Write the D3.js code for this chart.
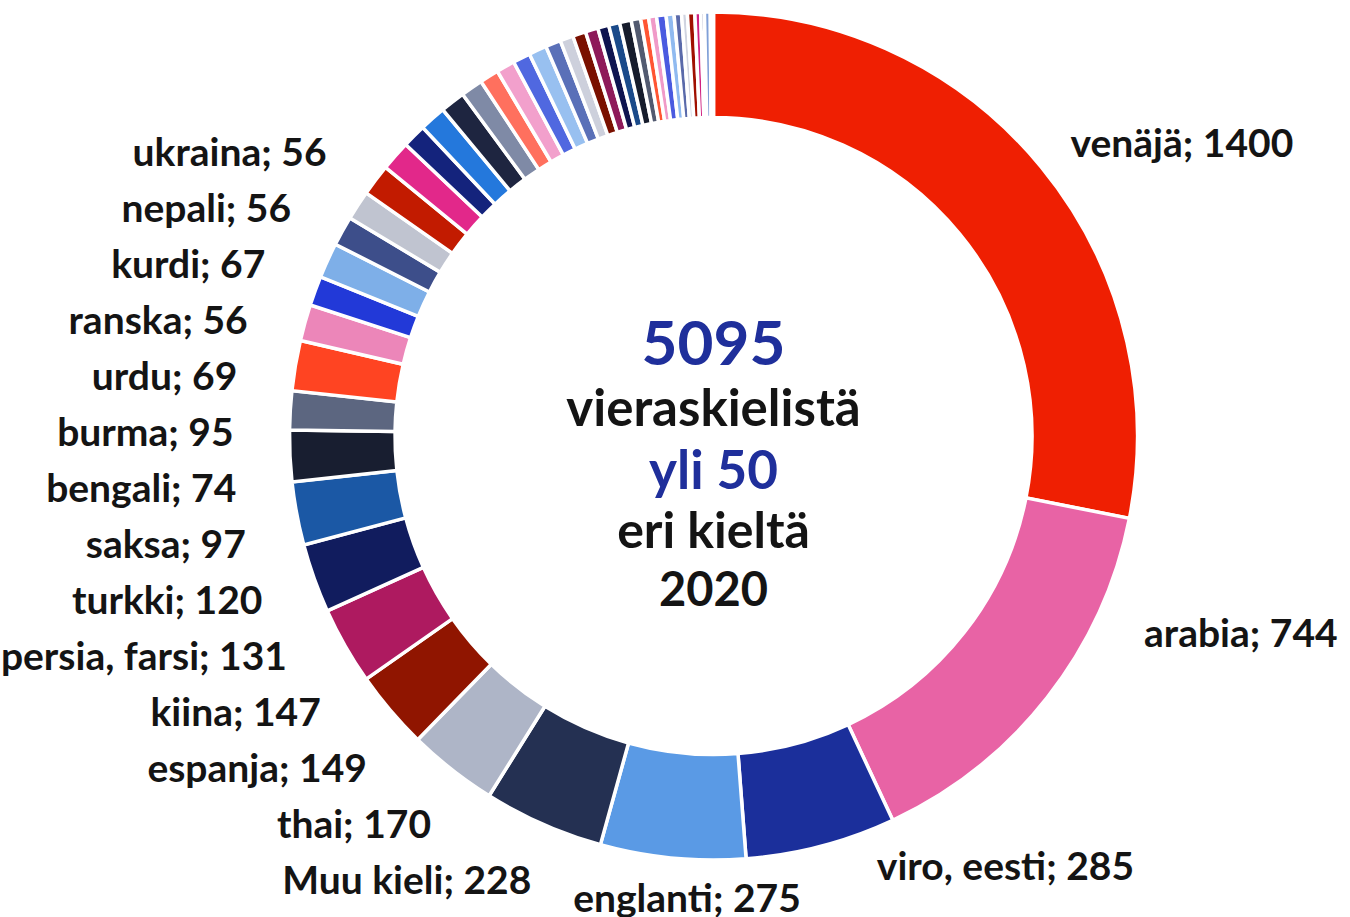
<!DOCTYPE html>
<html>
<head>
<meta charset="utf-8">
<script src="https://cdn.jsdelivr.net/npm/d3@7"></script>
<style>
  body { margin: 0; background: #fff; }
  svg { display: block; }
  text { font-family: Lato, "Open Sans", sans-serif; font-weight: 700; }
</style>
</head>
<body>
<svg width="1350" height="917"></svg>
<script>
/*
 * Data: languages with a label, clockwise from 12 o'clock
 */
var languages = ["venäjä", "arabia", "viro, eesti", "englanti", "Muu kieli", "thai",
  "espanja", "kiina", "persia, farsi", "turkki", "saksa", "bengali", "burma", "urdu",
  "ranska", "kurdi", "nepali", "ukraina"];
var speakers = [1400, 744, 285, 275, 228, 170, 149, 147, 131, 120, 97, 74, 95, 69, 56, 67, 56, 56];
var languageColors = ["#ef1f02", "#e863a5", "#1b2f9b", "#5a9ae5", "#243052", "#aeb5c7",
  "#901500", "#ae1a60", "#111c5e", "#1b58a5", "#181e30", "#5c6680", "#ff4422", "#ec86b9",
  "#2239d8", "#7eafe8", "#3d4e8a", "#c0c4d0"];

// the small languages without a label (rest of the ring, up to 12 o'clock)
var smallSpeakers = [60, 57, 45, 50, 47, 42, 36, 35, 33, 34, 29, 25, 25, 24, 21, 21, 22,
  18, 15, 15, 18, 15, 14, 11, 14, 11, 7, 11, 3, 2, 1];
var smallColors = ["#c21b00", "#e2288a", "#14237c", "#2478dc", "#1e2540", "#7f8aa6",
  "#ff705e", "#f2a0cc", "#5068e0", "#98c0f0", "#5a70b8", "#cdd0dc", "#7a1000", "#8e1a5a",
  "#0e1450", "#1a4a8a", "#161c2c", "#525a70", "#ff5533", "#f09ac8", "#4a5ae0", "#90baf0",
  "#5a6aaa", "#d0d4e0", "#a01000", "#d02080", "#404a80", "#80a0d8", "#c02040", "#3050c0",
  "#e06090"];

var centerLines = ["5095", "vieraskielistä", "yli 50", "eri kieltä", "2020"];
var centerColors = ["#1f2f9b", "#141414", "#1f2f9b", "#141414", "#141414"];

/*
 * svg set up
 */
var svg = d3.select("svg"),
    cx = 713.5,
    cy = 436,
    outerR = 424,
    innerR = 318.5;

var slices = speakers.map(function(v, i) {
  return { name: languages[i], value: v, color: languageColors[i], label: true };
}).concat(smallSpeakers.map(function(v, i) {
  return { name: "", value: v, color: smallColors[i], label: false };
}));

var pie = d3.pie().sort(null).value(function(d) { return d.value; });
var arc = d3.arc().innerRadius(innerR).outerRadius(outerR);

var g = svg.append("g").attr("transform", "translate(" + cx + "," + cy + ")");

var arcs = pie(slices);

// ### Ring
g.append("g")
  .selectAll("path")
  .data(arcs)
  .enter().append("path")
    .attr("d", arc)
    .attr("fill", function(d) { return d.data.color; })
    .attr("stroke", "#fff")
    .attr("stroke-width", 3.5);

// ### Labels
var labelFont = 39,
    step = 56,        // vertical spacing of the stacked labels on the left
    leftR = 480,      // circle the left labels end on
    rightR = 462;

// labels on the right were dragged by hand in the original
var labelNudge = { "arabia": [67, -88], "viro, eesti": [46, -17], "englanti": [18, 2] };

function mid(d) { return (d.startAngle + d.endAngle) / 2; }

var labelled = arcs.filter(function(d) { return d.data.label; });
var left = labelled.filter(function(d) { return mid(d) > Math.PI * 1.1; });
var right = labelled.filter(function(d) { return mid(d) <= Math.PI * 1.1; });

// left side: stack labels upward from the lowest one
var yBottom = -485 * Math.cos(mid(left[0]));
left.forEach(function(d, i) {
  var y = yBottom - i * step;
  d.ly = y;
  d.lx = -Math.sqrt(Math.max(leftR * leftR - y * y, 0));
  d.anchor = "end";
});
right.forEach(function(d) {
  var a = mid(d),
      n = labelNudge[d.data.name] || [0, 0];
  d.lx = rightR * Math.sin(a) + n[0];
  d.ly = -rightR * Math.cos(a) + n[1];
  d.anchor = a > Math.PI * 0.95 ? "middle" : "start";
});

g.append("g")
  .selectAll("text")
  .data(labelled)
  .enter().append("text")
    .attr("x", function(d) { return d.lx; })
    .attr("y", function(d) { return d.ly; })
    .attr("dy", "0.36em")
    .attr("text-anchor", function(d) { return d.anchor; })
    .attr("font-size", labelFont)
    .attr("fill", "#141414")
    .text(function(d) { return d.data.name + "; " + d.data.value; });

// ### Centre text
var centerSizes = [62, 51, 53, 50, 47];
var centerY = [-71, -10, 53, 112, 170];
g.append("g")
  .selectAll("text")
  .data(centerLines)
  .enter().append("text")
    .attr("x", 0)
    .attr("y", function(d, i) { return centerY[i]; })
    .attr("text-anchor", "middle")
    .attr("font-size", function(d, i) { return centerSizes[i]; })
    .attr("fill", function(d, i) { return centerColors[i]; })
    .text(function(d) { return d; });
</script>
</body>
</html>
